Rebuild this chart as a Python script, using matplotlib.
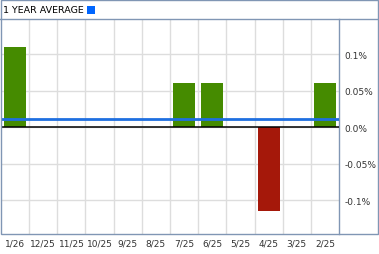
import matplotlib
matplotlib.use("Agg")
import matplotlib.pyplot as plt
from matplotlib.lines import Line2D
from matplotlib.patches import Rectangle
from matplotlib.ticker import FixedLocator

categories = ["1/26", "12/25", "11/25", "10/25", "9/25", "8/25", "7/25", "6/25", "5/25", "4/25", "3/25", "2/25"]
values = [0.11, 0, 0, 0, 0, 0, 0.06, 0.06, 0, -0.115, 0, 0.06]
average = 0.0115
ytick_vals = [0.1, 0.05, 0.0, -0.05, -0.1]
ytick_labels = ["0.1%", "0.05%", "0.0%", "-0.05%", "-0.1%"]
title = "1 YEAR AVERAGE"

W, H = 379, 255
fig = plt.figure(figsize=(W / 100, H / 100), dpi=100)
fig.patch.set_facecolor("white")

def fx(px):
    return px / W

def fy(py):
    return 1 - py / H

ax = fig.add_axes([fx(1), fy(235), fx(339) - fx(1), fy(20) - fy(235)])
ax.set_xlim(-0.5, len(categories) - 0.5)
ax.set_ylim(-0.146, 0.148)

green = "#458B00"
red = "#A5180A"
colors = [green if v >= 0 else red for v in values]
xs = list(range(len(categories)))
ax.bar(xs, values, width=0.78, color=colors, zorder=3)

ax.axhline(0, color="black", lw=1.1, zorder=4)
ax.axhline(average, color="#1E6FE0", lw=2, zorder=5)

ax.xaxis.set_minor_locator(FixedLocator([i + 0.5 for i in range(len(categories) - 1)]))
ax.grid(True, which="minor", axis="x", color="#dddddd", lw=1, zorder=0)
ax.set_yticks([t for t in ytick_vals])
ax.set_yticklabels(ytick_labels)
ax.grid(True, which="major", axis="y", color="#dddddd", lw=1, zorder=0)
ax.yaxis.tick_right()
ax.tick_params(axis="y", length=0, pad=4, labelsize=6.5, labelcolor="#333333")
ax.tick_params(axis="x", which="both", length=0, pad=3, labelsize=6.5, labelcolor="#333333")
ax.set_xticks(xs)
ax.set_xticklabels(categories)
for s in ["top", "left", "bottom"]:
    ax.spines[s].set_visible(False)
ax.spines["right"].set_color("#8096b4")
ax.spines["right"].set_linewidth(1.0)

border = "#8096b4"
fig.add_artist(Rectangle((fx(0.5), fy(235)), fx(378) - fx(0.5), fy(0.5) - fy(235),
                         fill=False, edgecolor=border, lw=1.0, transform=fig.transFigure))
fig.add_artist(Line2D([fx(0), fx(379)], [fy(20), fy(20)], color=border, lw=1.0, transform=fig.transFigure))

fig.text(fx(3), fy(10.5), title, fontsize=6.8, color="black", va="center", ha="left")
fig.add_artist(Rectangle((fx(87), fy(15)), fx(8), fy(7) - fy(15),
                         facecolor="#0066FF", edgecolor="none", transform=fig.transFigure))

fig.savefig("out.png", dpi=100)
